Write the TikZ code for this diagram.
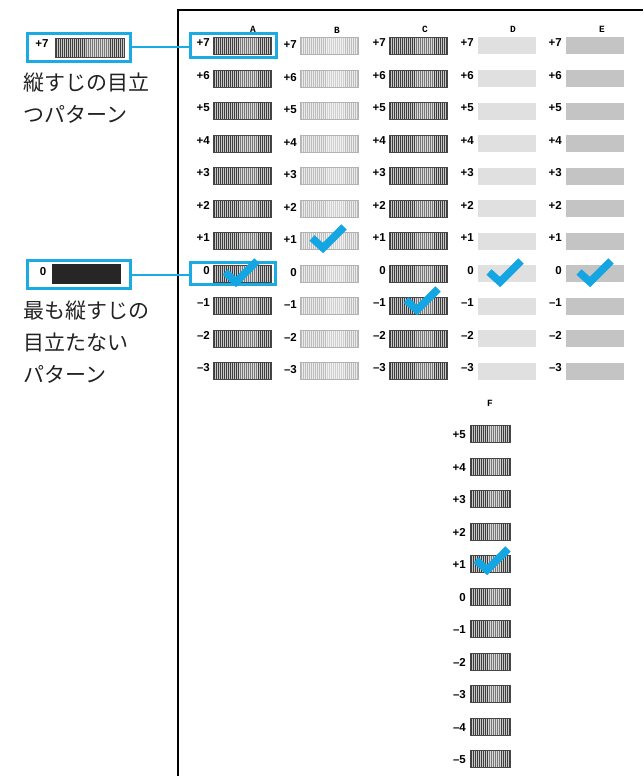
\documentclass[tikz,border=0pt]{standalone}
\usepackage{fontspec}
\newfontfamily\jpfont{Noto Sans CJK JP}
\newfontfamily\numfont{Liberation Sans}
\newfontfamily\letfont{Liberation Mono}
\definecolor{hlblue}{RGB}{26,171,228}
\definecolor{chkblue}{RGB}{20,166,226}
\definecolor{dkstripe}{RGB}{62,62,62}
\definecolor{dkbg}{RGB}{200,200,200}
\definecolor{dkborder}{RGB}{70,70,70}
\definecolor{ltstripe}{RGB}{188,188,188}
\definecolor{ltbg}{RGB}{236,236,236}
\definecolor{ltborder}{RGB}{178,178,178}
\definecolor{dfill}{RGB}{224,224,224}
\definecolor{efill}{RGB}{196,196,196}
\definecolor{blk}{RGB}{38,38,38}
\definecolor{jptext}{RGB}{34,34,34}
\newcommand\stripebox[7]{%
  \fill[#6] (#1,#2-#4/2) rectangle (#1+#3,#2+#4/2);
  \pgfmathtruncatemacro\nst{#3/2-1}
  \foreach \ss in {0,...,\nst} {\fill[#5] (#1+2*\ss+0.5,#2-#4/2) rectangle ++(1,#4);}
  \fill[white,opacity=0.3] (#1+0.45*#3,#2-#4/2) rectangle (#1+0.78*#3,#2+#4/2);
  \draw[#7,line width=0.8] (#1,#2-#4/2) rectangle (#1+#3,#2+#4/2);
}
\newcommand\chkmark[2]{\draw[chk,shift={(#1,#2)}] (-11,-15) -- (0,-5) -- (21,-26);}
\begin{document}
\begin{tikzpicture}[x=1pt,y=-1pt,
  frame/.style={draw=black,line width=1.4},
  collbl/.style={font=\letfont\bfseries\fontsize{9.5}{10}\selectfont,inner sep=0},
  numlbl/.style={font=\numfont\bfseries\fontsize{11.5}{12}\selectfont,anchor=east,inner sep=0},
  hlbox/.style={draw=hlblue,line width=2.8,inner sep=0},
  conn/.style={draw=hlblue,line width=2},
  chk/.style={draw=chkblue,line width=7.5,line join=miter,line cap=butt},
  jp/.style={font=\jpfont\fontsize{21}{24}\selectfont,text=jptext,anchor=west,inner sep=0}]
\useasboundingbox (0,0) rectangle (643,776);
\draw[frame] (178,776) -- (178,10) -- (643,10);
% column letters
\node[collbl] (cA) at (253,29) {A};
\node[collbl] (cB) at (337,30) {B};
\node[collbl] (cC) at (425,29) {C};
\node[collbl] (cD) at (513,29) {D};
\node[collbl] (cE) at (602,29) {E};
\node[collbl] (cF) at (490,403) {F};
% rows A-E
\foreach \k [count=\r from 0] in {+7,+6,+5,+4,+3,+2,+1,0,–1,–2,–3} {
  \pgfmathsetmacro\yy{46+32.5*\r}
  \stripebox{213}{\yy}{58}{17}{dkstripe}{dkbg}{dkborder}
  \stripebox{300}{\yy}{58}{17}{ltstripe}{ltbg}{ltborder}
  \stripebox{389}{\yy}{58}{17}{dkstripe}{dkbg}{dkborder}
  \fill[dfill] (478,\yy-8.5) rectangle ++(58,17);
  \fill[efill] (566,\yy-8.5) rectangle ++(58,17);
  \node[numlbl] (nA\r) at (210,\yy-3) {\k};
  \node[numlbl] (nB\r) at (297,\yy-1) {\k};
  \node[numlbl] (nC\r) at (386,\yy-3) {\k};
  \node[numlbl] (nD\r) at (474,\yy-3) {\k};
  \node[numlbl] (nE\r) at (562,\yy-3) {\k};
}
% column F
\foreach \k [count=\r from 0] in {+5,+4,+3,+2,+1,0,–1,–2,–3,–4,–5} {
  \pgfmathsetmacro\yy{434+32.5*\r}
  \stripebox{470}{\yy}{40}{17}{dkstripe}{dkbg}{dkborder}
  \node[numlbl] (nF\r) at (466,\yy+1) {\k};
}
% highlight boxes in chart
\node[hlbox,minimum width=86,minimum height=24] (hA7) at (233.5,45.5) {};
\node[hlbox,minimum width=85,minimum height=22] (hA0) at (233,273.5) {};
% left legend boxes
\node[hlbox,minimum width=103,minimum height=28] (hL7) at (79,47.5) {};
\node[numlbl,anchor=center] (lL7) at (42,44) {+7};
\stripebox{55}{47.5}{69}{19}{dkstripe}{dkbg}{dkborder}
\node[hlbox,minimum width=103,minimum height=28] (hL0) at (79,274.5) {};
\node[numlbl,anchor=center] (lL0) at (43,272) {0};
\fill[blk] (52,264) rectangle (121,284);
\draw[conn] (hL7.east) -- (hL7.east -| hA7.west);
\draw[conn] (hL0.east) -- (hL0.east -| hA0.west);
% japanese text
\node[jp] (t1) at (23,83) {縦すじの目立};
\node[jp] (t2) at (23,114) {つパターン};
\node[jp] (t3) at (23,311) {最も縦すじの};
\node[jp] (t4) at (23,342) {目立たない};
\node[jp] (t5) at (23,374) {パターン};
% check marks
\chkmark{236}{287}
\chkmark{323}{253}
\chkmark{417}{315}
\chkmark{500}{287}
\chkmark{590}{287}
\chkmark{487}{575}
\end{tikzpicture}
\end{document}
